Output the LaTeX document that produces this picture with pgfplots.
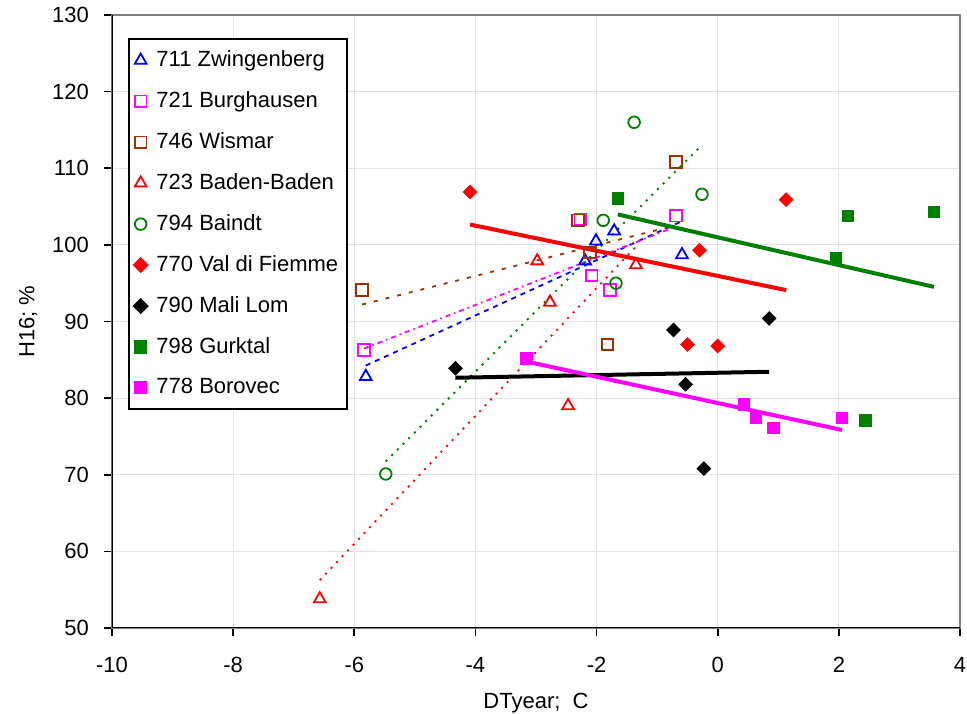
\documentclass[border=0pt]{standalone}
\usepackage{fontspec}
\setmainfont{Liberation Sans}
\usepackage{pgfplots}
\usepackage{pgfplotstable}
\pgfplotsset{compat=1.18}

\definecolor{cBlue}{RGB}{0,0,255}
\definecolor{cMag}{RGB}{255,0,255}
\definecolor{cBrown}{RGB}{153,51,0}
\definecolor{cRed}{RGB}{255,0,0}
\definecolor{cGreen}{RGB}{0,128,0}
\definecolor{cFrame}{RGB}{128,128,128}

% 711 Zwingenberg
\pgfplotstableread{
x y
-5.81 82.8
-2.19 97.9
-2.01 100.5
-1.71 101.8
-0.59 98.7
}\tZw
% 721 Burghausen
\pgfplotstableread{
x y
-5.84 86.3
-2.27 103.3
-2.08 96.0
-1.78 94.1
-0.69 103.8
}\tBu
% 746 Wismar
\pgfplotstableread{
x y
-5.87 94.1
-2.31 103.2
-2.11 99.0
-1.82 87.0
-0.69 110.8
}\tWi
% 723 Baden-Baden
\pgfplotstableread{
x y
-6.57 53.8
-2.98 97.9
-2.77 92.5
-2.47 79.0
-1.35 97.4
}\tBa
% 794 Baindt
\pgfplotstableread{
x y
-5.48 70.1
-1.89 103.2
-1.68 95.0
-1.38 116.0
-0.26 106.6
}\tBd
% 770 Val di Fiemme
\pgfplotstableread{
x y
-4.09 106.9
-0.50 87.0
-0.30 99.3
0.00 86.8
1.13 105.9
}\tVa
% 790 Mali Lom
\pgfplotstableread{
x y
-4.33 83.9
-0.73 88.9
-0.53 81.8
-0.23 70.8
0.85 90.4
}\tMa
% 798 Gurktal
\pgfplotstableread{
x y
-1.65 106.1
1.95 98.3
2.15 103.8
2.44 77.1
3.57 104.3
}\tGu
% 778 Borovec
\pgfplotstableread{
x y
-3.16 85.2
0.43 79.2
0.63 77.4
0.92 76.1
2.05 77.4
}\tBo

\begin{document}
\begin{tikzpicture}
\begin{axis}[
  scale only axis, width=424pt, height=306.5pt,
  xmin=-10, xmax=4, ymin=50, ymax=130,
  xtick={-10,-8,...,4}, ytick={50,60,...,130},
  font=\fontsize{11}{13.2}\selectfont,
  /pgf/number format/assume math mode=true,
  grid=major, major grid style={draw=gray!22, line width=0.6pt},
  axis line style={draw=cFrame, line width=1pt},
  tick align=outside, xtick pos=left, ytick pos=left,
  major tick length=4pt, tick style={black, line width=0.8pt},
  xticklabel style={yshift=-7pt},
  yticklabel style={xshift=-4pt},
  xlabel={DTyear;\ \ C}, ylabel={H16;\ \%},
  xlabel style={at={(axis description cs:0.5,-0.1223)}, anchor=center},
  ylabel style={at={(axis description cs:-0.099,0.5)}, anchor=center},
  legend cell align=left,
  legend image post style={xshift=2.5pt},
  legend style={at={(axis description cs:0,1)}, anchor=north west,
    xshift=8pt, yshift=-11.5pt, draw=black, line width=0.9pt,
    row sep=7pt, inner xsep=2.5pt, inner ysep=4pt,
    /tikz/every odd column/.append style={column sep=2.5pt},
    font=\fontsize{11}{13.2}\selectfont},
  every axis plot/.append style={line join=miter},
]
% trend lines (linear regression over the data range)
\addplot[cBlue, line width=0.9pt, dash pattern=on 2.5pt off 2.5pt, forget plot]
  table[x=x, y={create col/linear regression={y=y}}] {\tZw};
\addplot[cMag, line width=0.9pt, dash pattern=on 2.5pt off 2pt on 0.8pt off 2pt, forget plot]
  table[x=x, y={create col/linear regression={y=y}}] {\tBu};
\addplot[cBrown, line width=0.9pt, dash pattern=on 2pt off 4pt, forget plot]
  table[x=x, y={create col/linear regression={y=y}}] {\tWi};
\addplot[cRed, line width=0.9pt, dash pattern=on 1pt off 3pt, forget plot]
  table[x=x, y={create col/linear regression={y=y}}] {\tBa};
\addplot[cGreen, line width=1pt, dash pattern=on 1pt off 3pt, forget plot]
  table[x=x, y={create col/linear regression={y=y}}] {\tBd};
\addplot[cRed, line width=2pt, forget plot]
  table[x=x, y={create col/linear regression={y=y}}] {\tVa};
\addplot[black, line width=2pt, forget plot]
  table[x=x, y={create col/linear regression={y=y}}] {\tMa};
\addplot[cGreen, line width=2pt, forget plot]
  table[x=x, y={create col/linear regression={y=y}}] {\tGu};
\addplot[cMag, line width=2pt, forget plot]
  table[x=x, y={create col/linear regression={y=y}}] {\tBo};

% data points
\addplot[only marks, mark=triangle, mark size=3.4pt, cBlue, mark options={line width=0.9pt}] table[x=x,y=y] {\tZw};
\addlegendentry{711 Zwingenberg}
\addplot[only marks, mark=square, mark size=2.9pt, cMag, mark options={line width=0.9pt}] table[x=x,y=y] {\tBu};
\addlegendentry{721 Burghausen}
\addplot[only marks, mark=square, mark size=2.9pt, cBrown, mark options={line width=0.9pt}] table[x=x,y=y] {\tWi};
\addlegendentry{746 Wismar}
\addplot[only marks, mark=triangle, mark size=3.4pt, cRed, mark options={line width=0.9pt}] table[x=x,y=y] {\tBa};
\addlegendentry{723 Baden-Baden}
\addplot[only marks, mark=o, mark size=2.9pt, cGreen, mark options={line width=0.9pt}] table[x=x,y=y] {\tBd};
\addlegendentry{794 Baindt}
\addplot[only marks, mark=square*, mark size=2.4pt, cRed, mark options={rotate=45}] table[x=x,y=y] {\tVa};
\addlegendentry{770 Val di Fiemme}
\addplot[only marks, mark=square*, mark size=2.4pt, black, mark options={rotate=45}] table[x=x,y=y] {\tMa};
\addlegendentry{790 Mali Lom}
\addplot[only marks, mark=square*, mark size=2.9pt, cGreen] table[x=x,y=y] {\tGu};
\addlegendentry{798 Gurktal}
\addplot[only marks, mark=square*, mark size=2.9pt, cMag] table[x=x,y=y] {\tBo};
\addlegendentry{778 Borovec}

\draw[black, line width=1pt] (rel axis cs:0,1) -- (rel axis cs:0,0) -- (rel axis cs:1,0);
\coordinate (SW) at (rel axis cs:0,0);
\coordinate (NE) at (rel axis cs:1,1);
\end{axis}
\pgfresetboundingbox
\path ([shift={(-56pt,-43pt)}]SW) rectangle ([shift={(3.5pt,7.5pt)}]NE);
\end{tikzpicture}
\end{document}
